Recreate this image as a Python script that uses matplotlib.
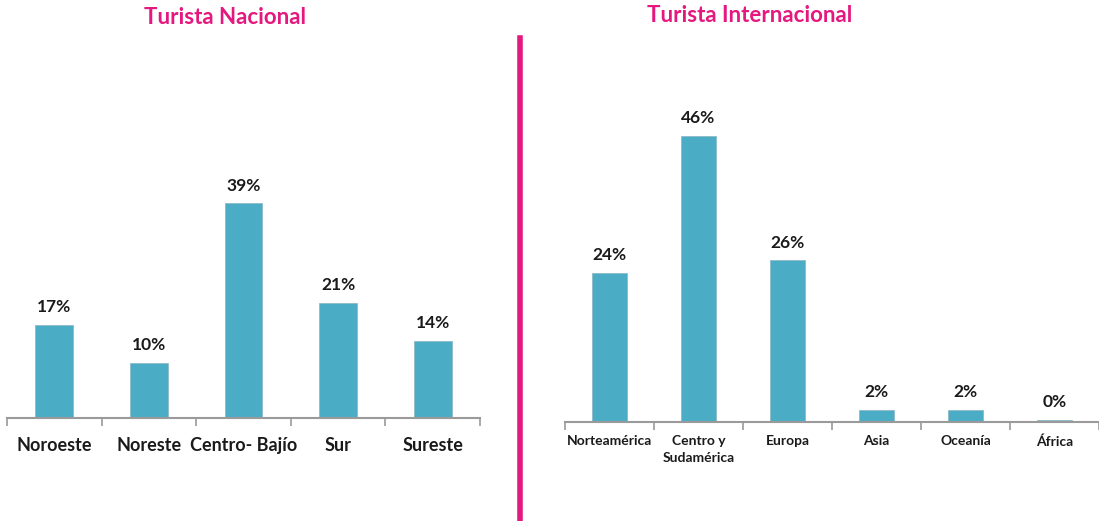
import numpy as np
import matplotlib.pyplot as plt
from matplotlib.lines import Line2D

plt.rcParams['font.family'] = ['Lato', 'DejaVu Sans']

nac_regions = ['Noroeste', 'Noreste', 'Centro- Bajío', 'Sur', 'Sureste']
nac_pct = [17, 10, 39, 21, 14]

int_regions = ['Norteamérica', 'Centro y\nSudamérica', 'Europa', 'Asia', 'Oceanía', 'África']
int_pct = [24, 46, 26, 2, 2, 0.4]

bar_color = '#4BACC6'
pink = '#E4187F'
axis_grey = '#9A9A9A'
W, H = 1099, 521


def draw_panel(ax, cats, vals, lab_size, tick_size, pad, px_height, px_per_pct):
    x = np.arange(len(cats))
    ax.bar(x, vals, width=0.4, color=bar_color, edgecolor='#8FB9C6', linewidth=0.6)
    for xi, v in zip(x, vals):
        ax.annotate('%d%%' % round(v), (xi, v), xytext=(0, 7), textcoords='offset points',
                    ha='center', va='bottom', fontsize=lab_size, fontweight='bold', color='#1a1a1a')
    ax.set_xlim(-0.5, len(cats) - 0.5)
    ax.set_ylim(0, px_height / px_per_pct)
    ax.set_xticks(np.arange(len(cats) + 1) - 0.5)
    ax.set_xticklabels([])
    ax.set_xticks(x, minor=True)
    ax.set_xticklabels(cats, minor=True, fontsize=tick_size, fontweight='bold', color='#1a1a1a',
                       linespacing=1.45)
    ax.tick_params(axis='x', which='major', length=6, width=1.2, color=axis_grey, direction='out')
    ax.tick_params(axis='x', which='minor', length=0, pad=pad)
    ax.set_yticks([])
    for s in ['left', 'right', 'top']:
        ax.spines[s].set_visible(False)
    ax.spines['bottom'].set_color(axis_grey)
    ax.spines['bottom'].set_linewidth(1.5)


fig = plt.figure(figsize=(W / 100, H / 100), dpi=100)

# left panel
ax1 = fig.add_axes([7 / W, (H - 418) / H, 473 / W, 378 / H])
draw_panel(ax1, nac_regions, nac_pct, 12.5, 13, 14, 378, 5.5)

# right panel
ax2 = fig.add_axes([565 / W, (H - 422) / H, 534 / W, 382 / H])
draw_panel(ax2, int_regions, int_pct, 12.5, 10, 9.5, 382, 6.22)

fig.text(225 / W, 1 - 17 / H, 'Turista Nacional', ha='center', va='center',
         color=pink, fontsize=16, fontweight='bold')
fig.text(750 / W, 1 - 16 / H, 'Turista Internacional', ha='center', va='center',
         color=pink, fontsize=16, fontweight='bold')

fig.add_artist(Line2D([520 / W, 520 / W], [0, 1 - 38 / H], color=pink, linewidth=4,
                      transform=fig.transFigure))

fig.savefig('out.png', dpi=100, facecolor='white')
